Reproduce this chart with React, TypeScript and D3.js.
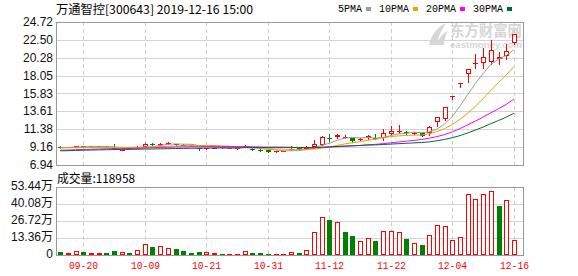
import React from "react";
import * as d3 from "d3";

// ---- data ----
const dateLabels = ["09-20", "10-09", "10-21", "10-31", "11-12", "11-22", "12-04", "12-16"];
const dateIndex = [3, 11, 19, 27, 35, 43, 51, 59];

const openP = [9.22, 9.18, 9.20, 9.30, 9.25, 9.26, 9.25, 9.10, 8.80, 9.05, 9.12, 9.22, 9.55, 9.50, 9.62, 9.52, 9.48, 9.40, 9.00, 9.00,
  9.06, 9.12, 9.05, 8.98, 9.20, 8.95, 8.84, 8.82, 8.58, 8.66, 8.90, 9.01, 8.97, 9.22, 9.43, 10.33, 10.36, 10.46, 10.26, 10.12,
  10.26, 10.33, 10.26, 10.83, 11.15, 11.08, 10.90, 10.88, 10.88, 12.25, 12.66, 15.36, 17.00, 18.22, 19.60, 19.58, 19.78, 20.12, 20.49, 22.07];
const highP = [9.30, 9.24, 9.36, 9.36, 9.30, 9.30, 9.32, 9.50, 8.86, 9.10, 9.30, 9.72, 9.62, 9.72, 9.82, 9.55, 9.52, 9.45, 9.05, 9.10,
  9.14, 9.16, 9.14, 9.08, 9.40, 9.00, 8.88, 8.85, 8.66, 8.74, 9.30, 9.05, 9.25, 10.05, 10.50, 10.79, 10.75, 10.63, 10.30, 10.26,
  10.62, 10.76, 11.38, 11.79, 11.91, 11.20, 11.10, 10.98, 11.75, 12.87, 14.16, 15.57, 17.13, 18.84, 20.70, 21.45, 22.48, 21.03, 21.95, 23.22];
const lowP = [9.08, 9.14, 9.16, 9.20, 9.22, 9.22, 9.12, 8.93, 8.78, 8.95, 9.08, 9.20, 9.40, 9.45, 9.55, 9.42, 9.40, 9.30, 8.85, 8.95,
  9.02, 9.02, 9.02, 8.95, 9.15, 8.85, 8.70, 8.55, 8.50, 8.62, 8.85, 8.80, 8.90, 9.20, 9.40, 9.96, 10.30, 10.30, 9.84, 10.05,
  10.22, 10.13, 10.05, 10.67, 10.88, 10.85, 10.80, 10.50, 10.67, 11.83, 12.55, 15.15, 16.68, 17.22, 18.96, 18.96, 19.46, 19.46, 20.08, 22.00];
const closeP = [9.12, 9.20, 9.28, 9.25, 9.27, 9.27, 9.20, 8.95, 8.82, 9.00, 9.20, 9.59, 9.45, 9.60, 9.70, 9.45, 9.45, 9.35, 8.88, 9.05,
  9.10, 9.05, 9.10, 9.00, 9.30, 8.90, 8.72, 8.56, 8.62, 8.70, 8.95, 8.84, 9.14, 9.51, 10.46, 10.26, 10.69, 10.46, 9.96, 10.17,
  10.58, 10.21, 10.88, 11.17, 11.20, 10.88, 10.96, 10.58, 11.70, 12.87, 14.16, 15.57, 17.13, 18.84, 19.66, 20.40, 21.24, 20.37, 21.11, 23.22];

const ma5 = [9.07, 9.11, 9.16, 9.19, 9.22, 9.25, 9.25, 9.19, 9.10, 9.05, 9.03, 9.11, 9.21, 9.37, 9.51, 9.56, 9.53, 9.51, 9.37, 9.24,
  9.17, 9.09, 9.04, 9.06, 9.11, 9.07, 9.00, 8.90, 8.82, 8.70, 8.71, 8.73, 8.85, 9.03, 9.38, 9.64, 10.01, 10.28, 10.37, 10.31,
  10.37, 10.28, 10.36, 10.60, 10.81, 10.87, 11.02, 10.96, 11.06, 11.40, 12.05, 12.98, 14.29, 15.71, 17.07, 18.32, 19.45, 20.10, 20.56, 21.27];
const ma10 = [9.08, 9.09, 9.10, 9.11, 9.12, 9.13, 9.13, 9.13, 9.13, 9.14, 9.14, 9.18, 9.20, 9.24, 9.28, 9.30, 9.32, 9.36, 9.37, 9.37,
  9.36, 9.31, 9.27, 9.21, 9.17, 9.12, 9.05, 8.97, 8.94, 8.91, 8.89, 8.87, 8.87, 8.92, 9.04, 9.18, 9.37, 9.56, 9.70, 9.84,
  10.01, 10.14, 10.32, 10.48, 10.56, 10.62, 10.65, 10.66, 10.83, 11.10, 11.46, 12.00, 12.62, 13.39, 14.24, 15.19, 16.22, 17.19, 18.14, 19.17];
const ma20 = [8.78, 8.80, 8.84, 8.87, 8.90, 8.93, 8.96, 8.97, 8.98, 9.00, 9.02, 9.05, 9.08, 9.12, 9.15, 9.18, 9.20, 9.22, 9.23, 9.25,
  9.25, 9.25, 9.24, 9.22, 9.23, 9.21, 9.18, 9.16, 9.15, 9.14, 9.13, 9.09, 9.07, 9.07, 9.11, 9.15, 9.21, 9.26, 9.32, 9.37,
  9.45, 9.51, 9.60, 9.70, 9.80, 9.90, 10.01, 10.11, 10.27, 10.47, 10.73, 11.07, 11.47, 11.94, 12.40, 12.90, 13.43, 13.93, 14.48, 15.14];
const ma30 = [8.70, 8.72, 8.75, 8.78, 8.80, 8.82, 8.84, 8.86, 8.88, 8.89, 8.90, 8.92, 8.93, 8.95, 8.97, 8.99, 9.00, 9.02, 9.03, 9.04,
  9.05, 9.06, 9.07, 9.08, 9.10, 9.11, 9.12, 9.13, 9.14, 9.14, 9.13, 9.12, 9.12, 9.12, 9.16, 9.20, 9.25, 9.30, 9.33, 9.37,
  9.42, 9.44, 9.49, 9.54, 9.59, 9.64, 9.69, 9.73, 9.82, 9.95, 10.12, 10.34, 10.60, 10.93, 11.28, 11.66, 12.08, 12.47, 12.89, 13.37];

// volume in 万手
const volume = [2.4, 1.6, 3.0, 2.4, 1.6, 1.6, 1.6, 3.5, 2.2, 1.6, 4.0, 8.6, 6.3, 6.8, 5.3, 4.7, 3.1, 1.9, 2.4, 2.4,
  1.6, 1.0, 1.0, 1.0, 3.1, 1.6, 1.6, 1.0, 1.0, 1.0, 2.4, 1.6, 3.9, 18.1, 29.9, 27.5, 25.9, 18.1, 14.9, 11.0,
  13.1, 11.0, 18.9, 18.9, 18.1, 12.6, 9.4, 7.9, 15.5, 23.3, 22.5, 11.8, 13.9, 47.7, 43.8, 47.7, 50.0, 38.5, 43.0, 11.9];
const volumeUp = [0, 1, 1, 0, 1, 1, 0, 0, 1, 0, 1, 1, 0, 1, 1, 0, 0, 0, 0, 1,
  1, 0, 1, 1, 1, 0, 0, 0, 1, 1, 1, 0, 1, 1, 1, 0, 1, 0, 0, 1,
  1, 0, 1, 1, 1, 0, 1, 0, 1, 1, 1, 1, 1, 1, 1, 1, 1, 0, 1, 1];

const priceTicks = [24.72, 22.50, 20.28, 18.05, 15.83, 13.61, 11.38, 9.16, 6.94];
const volTicks = [53.44, 40.08, 26.72, 13.36, 0];
const volTickLabels = ["53.44万", "40.08万", "26.72万", "13.36万", "0"];

const title = "万通智控[300643] 2019-12-16 15:00";
const volTitle = "成交量:118958";
const legendNames = ["5PMA", "10PMA", "20PMA", "30PMA"];

// ---- styles ----
const RED = "#ff0000";
const GREEN = "#008000";
const maColors = ["#9a9a9a", "#f0a000", "#ff00ff", "#006b32"];
const BORDER = "#999999";
const GRID = "#d4d4d4";

const W = 578, H = 276;
const L = 56, R = 523;
const mTop = 22, mBot = 165;
const vTop = 187, vBot = 255;

export default function App() {
  const n = closeP.length;
  const x = d3.scaleLinear().domain([0, n - 1]).range([60.2, 513.9]);
  const y = d3.scaleLinear().domain([6.94, 24.72]).range([mBot, mTop]);
  const yv = d3.scaleLinear().domain([0, 53.44]).range([vBot, vTop]);
  const mas = [ma5, ma10, ma20, ma30];
  const line = d3.line<number>().x((_, i) => x(i)).y((d) => y(d));

  const candles = closeP.map((c, i) => {
    const o = openP[i];
    const cx = Math.round(x(i));
    const up = c >= o;
    const t = Math.round(y(Math.max(o, c)));
    const b = Math.round(y(Math.min(o, c)));
    const yh = Math.round(y(highP[i]));
    const yl = Math.round(y(lowP[i]));
    if (up) {
      const h = b - t;
      return (
        <g key={i}>
          <line x1={cx + 0.5} x2={cx + 0.5} y1={yh} y2={t} stroke={RED} />
          <line x1={cx + 0.5} x2={cx + 0.5} y1={b} y2={yl + 1} stroke={RED} />
          {h >= 2 ? (
            <rect x={cx - 1.5} y={t + 0.5} width={4} height={h - 1} fill="#fff" stroke={RED} />
          ) : (
            <rect x={cx - 2} y={t} width={5} height={Math.max(h, 1)} fill={RED} />
          )}
        </g>
      );
    }
    return (
      <g key={i}>
        <line x1={cx + 0.5} x2={cx + 0.5} y1={yh} y2={yl + 1} stroke={GREEN} />
        <rect x={cx - 2} y={t} width={5} height={Math.max(b - t, 1)} fill={GREEN} />
      </g>
    );
  });

  const vbars = volume.map((v, i) => {
    const cx = Math.round(x(i));
    const t = Math.round(yv(v));
    const h = vBot - t;
    if (volumeUp[i]) {
      return h >= 3 ? (
        <rect key={i} x={cx - 1.5} y={t + 0.5} width={4} height={h - 1} fill="#fff" stroke={RED} />
      ) : (
        <rect key={i} x={cx - 2} y={t} width={5} height={h} fill={RED} />
      );
    }
    return <rect key={i} x={cx - 2} y={t} width={5} height={h} fill={GREEN} />;
  });

  const labelFont = "'Liberation Sans', Arial, 'Noto Sans CJK SC', sans-serif";
  const monoFont = "'Liberation Mono', 'DejaVu Sans Mono', monospace";

  // legend layout
  let lx = 338;
  const legend = legendNames.map((name, k) => {
    const tw = name.length * 6;
    const g = (
      <g key={name}>
        <text x={lx} y={8.5} dominantBaseline="central" fontSize={11} fontFamily={monoFont}
          textLength={tw} lengthAdjust="spacingAndGlyphs" fill="#000">{name}</text>
        <rect x={lx + tw + 4} y={7} width={5} height={4} fill={maColors[k]} />
      </g>
    );
    lx += tw + 4 + 5 + 8;
    return g;
  });

  return (
    <svg width={W} height={H} style={{ position: "absolute", left: 0, top: 0, background: "#fff" }}>
      <rect width={W} height={H} fill="#fff" />
      {/* watermark */}
      <g fill="#d6d6d6" stroke="none">
        <path d="M429,45 C431,36 436,28 446,23 C441,30 438,37 437,45 Z" />
        <path d="M436,45 C439,38 443,33 448,31 C445,36 444,40 444,45 Z" />
        <text x={450} y={36} fontSize={15} fontWeight="bold" fontFamily="'Noto Sans CJK SC', sans-serif"
          textLength={72} lengthAdjust="spacingAndGlyphs">东方财富网</text>
        <text x={450} y={48} fontSize={8.5} fontWeight="bold" fontFamily={labelFont}
          textLength={72} lengthAdjust="spacingAndGlyphs">eastmoney.com</text>
      </g>

      {/* main panel grid */}
      {priceTicks.slice(1, -1).map((t) => (
        <line key={t} x1={L} x2={R} y1={Math.round(y(t)) + 0.5} y2={Math.round(y(t)) + 0.5} stroke={GRID} />
      ))}
      {dateIndex.map((di) => (
        <line key={"dv" + di} x1={Math.round(x(di)) + 0.5} x2={Math.round(x(di)) + 0.5} y1={mTop} y2={mBot}
          stroke="#cfcfcf" strokeDasharray="4,3" />
      ))}
      {/* volume grid */}
      {volTicks.slice(1, -1).map((t) => (
        <line key={"v" + t} x1={L} x2={R} y1={Math.round(yv(t)) + 0.5} y2={Math.round(yv(t)) + 0.5} stroke={GRID} />
      ))}
      {dateIndex.map((di) => (
        <line key={"vv" + di} x1={Math.round(x(di)) + 0.5} x2={Math.round(x(di)) + 0.5} y1={vTop} y2={vBot}
          stroke="#cfcfcf" strokeDasharray="4,3" />
      ))}

      {candles}
      {mas.map((m, k) => (
        <path key={k} d={line(m) || ""} fill="none" stroke={maColors[k]} strokeWidth={1} />
      ))}
      {vbars}

      {/* borders */}
      <rect x={L + 0.5} y={mTop + 0.5} width={R - L} height={mBot - mTop} fill="none" stroke={BORDER} />
      <rect x={L + 0.5} y={vTop + 0.5} width={R - L} height={vBot - vTop} fill="none" stroke={BORDER} />

      {/* y labels */}
      {priceTicks.map((t) => (
        <text key={"pl" + t} x={53} y={y(t)} dominantBaseline="central" textAnchor="end" fontSize={12}
          fontFamily={labelFont} fill="#111">{t.toFixed(2)}</text>
      ))}
      {volTicks.map((t, k) => (
        <text key={"vl" + t} x={53} y={yv(t) - 1} dominantBaseline="central" textAnchor="end" fontSize={12}
          fontFamily={labelFont} fill="#111">{volTickLabels[k]}</text>
      ))}

      {/* x labels */}
      {dateIndex.map((di, k) => (
        <text key={"xl" + di} x={Math.round(x(di)) + 0.5} y={266} dominantBaseline="central" textAnchor="middle"
          fontSize={11} fontFamily={monoFont} fill={RED} textLength={29} lengthAdjust="spacingAndGlyphs">
          {dateLabels[k]}
        </text>
      ))}

      {/* titles */}
      <text x={56} y={8.5} dominantBaseline="central" fontSize={12} fontFamily="'Noto Sans CJK SC', sans-serif"
        textLength={197} lengthAdjust="spacingAndGlyphs" fill="#000">{title}</text>
      <text x={57} y={177} dominantBaseline="central" fontSize={12} fontFamily="'Noto Sans CJK SC', sans-serif"
        textLength={78} lengthAdjust="spacingAndGlyphs" fill="#000">{volTitle}</text>
      {legend}
    </svg>
  );
}
